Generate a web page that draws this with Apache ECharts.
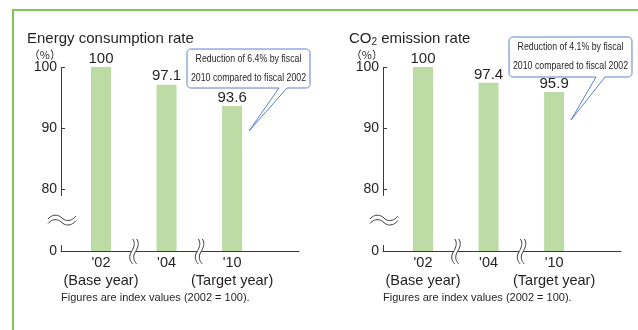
<!DOCTYPE html>
<html><head><meta charset="utf-8">
<script src="https://cdn.jsdelivr.net/npm/echarts@6/dist/echarts.min.js"></script>
<style>html,body{margin:0;padding:0;background:#fff}#c{width:638px;height:330px}</style>
</head><body><div id="c"></div>
<script>
// Fiscal years on the horizontal axis and their notes
const categories = ["'02", "'04", "'10"];
const categoryNotes = ['(Base year)', '', '(Target year)'];
// Index values (2002 = 100)
const energyRate = [100, 97.1, 93.6];
const co2Rate = [100, 97.4, 95.9];
// Value-axis ticks
const yTicks = [0, 80, 90, 100];
// Callout text
const energyNote = ['Reduction of 6.4% by fiscal', '2010 compared to fiscal 2002'];
const co2Note = ['Reduction of 4.1% by fiscal', '2010 compared to fiscal 2002'];
const footnote = 'Figures are index values (2002 = 100).';

const FONT = "'Liberation Sans', Arial, Helvetica, sans-serif";
const INK = '#231f20';
const AXIS = '#3a3a3a';
const BAR = '#bddca5';

const chart = echarts.init(document.getElementById('c'), null, { renderer: 'canvas' });

function xAxisCfg(gridIndex) {
  return {
    type: 'value', gridIndex, min: -0.61, max: 3.02,
    splitLine: { show: false },
    axisTick: { show: false },
    axisLine: { show: true, onZero: false, lineStyle: { color: AXIS, width: 1 } },
    axisLabel: {
      customValues: categories.map((c, i) => i),
      margin: 3,
      formatter: v => categories[v] + '\n' + (categoryNotes[v] || ''),
      color: INK, fontSize: 14.5, fontFamily: FONT, lineHeight: 18
    }
  };
}
function yAxisCfg(gridIndex) {
  return {
    type: 'value', gridIndex, min: 0, max: 100,
    breaks: [{ start: 1, end: 79, gap: '27%' }],
    breakArea: { show: false },
    splitLine: { show: false },
    axisLine: { show: true, onZero: false, lineStyle: { color: AXIS, width: 1 } },
    axisTick: { show: true, inside: true, length: 4, customValues: yTicks, lineStyle: { color: AXIS } },
    axisLabel: { customValues: yTicks, margin: 4, color: INK, fontSize: 14, fontFamily: FONT },
    name: '（%）', nameLocation: 'end', nameGap: 7,
    nameTextStyle: { align: 'right', fontSize: 11, color: INK, padding: [0, 0, 0, 0], fontFamily: "'Noto Sans CJK JP', sans-serif" }
  };
}
function barSeries(idx, values) {
  return {
    type: 'bar', xAxisIndex: idx, yAxisIndex: idx, barWidth: 20,
    data: values.map((v, i) => [i, v]),
    itemStyle: { color: BAR },
    label: { show: true, position: 'top', distance: 1, formatter: p => String(p.value[1]),
      color: INK, fontSize: 15, fontFamily: FONT }
  };
}

chart.setOption({
  animation: false,
  textStyle: { fontFamily: FONT },
  title: [
    { text: 'Energy consumption rate', left: 27, top: 31, padding: 0,
      textStyle: { fontSize: 15, fontWeight: 'normal', color: INK, fontFamily: FONT } },
    { text: '{m|CO}{s|2}{m| emission rate}', left: 349, top: 31, padding: 0,
      textStyle: { fontSize: 15, fontWeight: 'normal', color: INK, fontFamily: FONT,
        rich: { m: { fontSize: 15, color: INK, fontFamily: FONT, verticalAlign: 'bottom' },
                s: { fontSize: 10, color: INK, fontFamily: FONT, verticalAlign: 'bottom', padding: [0, 0, -1, 0] } } } }
  ],
  grid: [
    { left: 61, top: 67, width: 238, height: 184 },
    { left: 383, top: 67, width: 238, height: 184 }
  ],
  xAxis: [xAxisCfg(0), xAxisCfg(1)],
  yAxis: [yAxisCfg(0), yAxisCfg(1)],
  series: [barSeries(0, energyRate), barSeries(1, co2Rate)]
});

// Curve helpers: sample cubic segments into point lists for polyline / polygon
function cubic(p0, p1, p2, p3, n = 12) {
  const out = [];
  for (let k = 0; k <= n; k++) {
    const t = k / n, s = 1 - t;
    out.push([
      s*s*s*p0[0] + 3*s*s*t*p1[0] + 3*s*t*t*p2[0] + t*t*t*p3[0],
      s*s*s*p0[1] + 3*s*s*t*p1[1] + 3*s*t*t*p2[1] + t*t*t*p3[1]
    ]);
  }
  return out;
}
function chain(start, segs) {
  let pts = [start], cur = start;
  segs.forEach(s => { pts = pts.concat(cubic(cur, s[0], s[1], s[2]).slice(1)); cur = s[2]; });
  return pts;
}
const shift = (pts, dx, dy) => pts.map(p => [p[0] + dx, p[1] + dy]);

// Wavy "≈" break mark on the value axis
function wave(cx, cy) {
  const up = chain([-14, 1], [[[-10, -4], [-4, -4], [0, 0]], [[4, 4], [10, 3], [14, -2]]]);
  const upper = shift(up, cx, cy), lower = shift(up, cx, cy + 4.5);
  return [
    { type: 'polygon', z: 20, shape: { points: upper.concat(lower.slice().reverse()) }, style: { fill: '#fff', stroke: null } },
    { type: 'polyline', z: 21, shape: { points: upper }, style: { fill: null, stroke: AXIS, lineWidth: 1 } },
    { type: 'polyline', z: 21, shape: { points: lower }, style: { fill: null, stroke: AXIS, lineWidth: 1 } }
  ];
}
// Double "((" break mark on the horizontal axis
function slash(cx, cy) {
  const s = chain([1, -12], [[[4, -8], [2, -3], [-1, 2]], [[-3, 6], [-2, 10], [1, 13]]]);
  const a = shift(s, cx, cy), b = shift(s, cx + 4, cy);
  return [
    { type: 'polygon', z: 20, shape: { points: a.concat(b.slice().reverse()) }, style: { fill: '#fff', stroke: null } },
    { type: 'polyline', z: 21, shape: { points: a }, style: { fill: null, stroke: AXIS, lineWidth: 1 } },
    { type: 'polyline', z: 21, shape: { points: b }, style: { fill: null, stroke: AXIS, lineWidth: 1 } }
  ];
}
// Rounded callout box with a pointer; its text is set condensed
function callout(x0, y0, x1, y1, p1, p2, tx, ty, lines) {
  const r = 4;
  const corner = (a, c, b) => chain(a, [[[a[0] + (c[0] - a[0]) * 0.55, a[1] + (c[1] - a[1]) * 0.55], [b[0] + (c[0] - b[0]) * 0.55, b[1] + (c[1] - b[1]) * 0.55], b]]).slice(0, -1);
  let pts = [];
  pts = pts.concat(corner([x0, y0 + r], [x0, y0], [x0 + r, y0]));
  pts = pts.concat(corner([x1 - r, y0], [x1, y0], [x1, y0 + r]));
  pts = pts.concat(corner([x1, y1 - r], [x1, y1], [x1 - r, y1]));
  pts.push([p2, y1], [tx, ty], [p1, y1]);
  pts = pts.concat(corner([x0 + r, y1], [x0, y1], [x0, y1 - r]));
  const cx = (x0 + x1) / 2, cy = (y0 + y1) / 2;
  const line = (t, y) => ({ type: 'text', z: 21, x: cx, y, scaleX: 0.835,
    style: { text: t, align: 'center', verticalAlign: 'middle', fill: INK, font: `10.5px ${FONT}` } });
  return [
    { type: 'polygon', z: 20, shape: { points: pts }, style: { fill: '#fff', stroke: '#5a7fd2', lineWidth: 1 } },
    line(lines[0], cy - 9.5),
    line(lines[1], cy + 9.5)
  ];
}

const g = [
  { type: 'rect', z: 0, shape: { x: 13, y: 10, width: 700, height: 400 }, style: { fill: null, stroke: '#7cc856', lineWidth: 2 } }
];
[0, 1].forEach(i => {
  const p0 = chart.convertToPixel({ gridIndex: i }, [0, 0]);
  const p80 = chart.convertToPixel({ gridIndex: i }, [0, 80]);
  const axisX = chart.convertToPixel({ xAxisIndex: i }, -0.61);
  g.push(...wave(axisX + 1, (p0[1] + p80[1]) / 2 - 2));
  [0.5, 1.5].forEach(v => {
    const px = chart.convertToPixel({ gridIndex: i }, [v, 0]);
    g.push(...slash(px[0] - 2, px[1]));
  });
  g.push({ type: 'text', z: 21, x: axisX, y: 298, style: { text: footnote, align: 'left', verticalAlign: 'middle', fill: INK, font: `11px ${FONT}` } });
});
g.push(...callout(187, 49, 310, 88, 279, 287, 249, 131, energyNote));
g.push(...callout(509, 37, 632, 77, 596, 605, 571, 120, co2Note));

chart.setOption({ graphic: g });
</script>
</body></html>
